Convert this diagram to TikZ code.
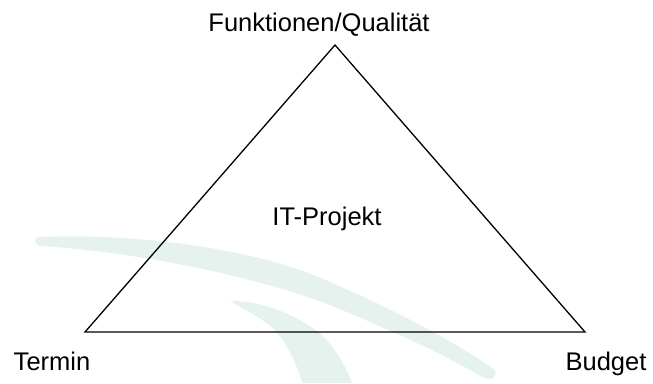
\documentclass[tikz,border=0pt]{standalone}
\usepackage{fontspec}
\setmainfont{Liberation Sans}
\definecolor{swoosh}{HTML}{E6F2EE}
\tikzset{
  lbl/.style={font=\fontsize{25.5}{30}\selectfont, inner sep=0pt, anchor=base},
  edge/.style={draw=black, line width=1.3pt, line join=miter}
}
\begin{document}
\begin{tikzpicture}[x=1pt,y=-1pt]
\useasboundingbox (0,0) rectangle (653,383);
% watermark brush strokes
\fill[swoosh] (38,237) .. controls (120,233) and (250,245) .. (330,282)
  .. controls (400,312) and (460,345) .. (495,370)
  .. controls (497,378) and (490,381) .. (484,378)
  .. controls (440,352) and (390,330) .. (330,305)
  .. controls (260,278) and (140,252) .. (40,246)
  .. controls (34,244) and (34,239) .. (38,237) -- cycle;
\fill[swoosh] (230,301) .. controls (260,300) and (300,315) .. (325,338)
  .. controls (340,355) and (348,372) .. (352,383)
  -- (302,383)
  .. controls (298,368) and (290,348) .. (275,330)
  .. controls (262,318) and (245,310) .. (230,301) -- cycle;
% triangle corners
\coordinate (top) at (335,45);
\coordinate (left) at (85,332);
\coordinate (right) at (585,332);
\draw[edge] (top) -- (right) -- (left) -- cycle;
% labels
\node[lbl] (quality) at (319,31) {Funktionen/Qualität};
\node[lbl] (project) at (327,225) {IT-Projekt};
\node[lbl] (schedule) at (52,370) {Termin};
\node[lbl] (budget) at (606,370) {Budget};
\end{tikzpicture}
\end{document}
